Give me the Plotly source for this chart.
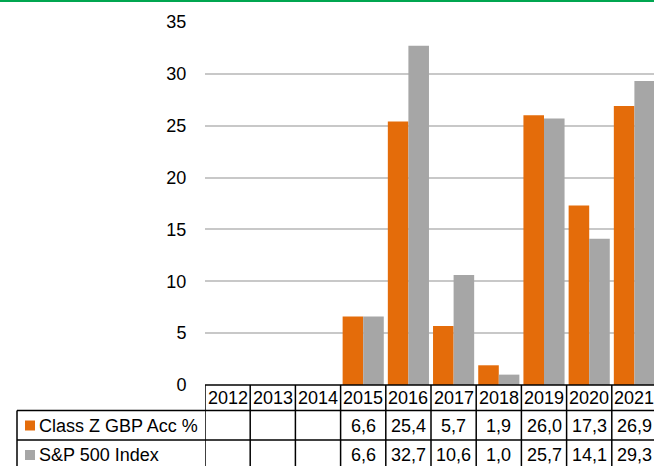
import plotly.graph_objects as go

years = ['2012', '2013', '2014', '2015', '2016', '2017', '2018', '2019', '2020', '2021']
class_z = [None, None, None, 6.6, 25.4, 5.7, 1.9, 26.0, 17.3, 26.9]
sp500 = [None, None, None, 6.6, 32.7, 10.6, 1.0, 25.7, 14.1, 29.3]
series_names = ['Class Z GBP Acc %', 'S&P 500 Index']
series_colors = ['#e46c0a', '#a6a6a6']
y_ticks = [0, 5, 10, 15, 20, 25, 30, 35]

W, H = 654, 466
ML, MR, MT, MB = 205, 0, 22, 81
PW = W - ML - MR
PH = H - MT - MB
FONT = 'Liberation Sans, Arial, sans-serif'
FS = 18


def py(p):
    return (H - MB - p) / PH


def px(p):
    return (p - ML) / PW


fig = go.Figure()
for name, vals, col in zip(series_names, [class_z, sp500], series_colors):
    fig.add_trace(go.Bar(x=years, y=vals, name=name, marker=dict(color=col, line=dict(width=0))))

col_w = 45.2
xmax = -0.5 + PW / col_w

shapes = []
line = dict(color='black', width=1.5)
row_tops = [385, 410.5, 440, 469.5]
# vertical column lines
for k in range(len(years) + 1):
    shapes.append(dict(type='line', xref='x', yref='paper', x0=k - 0.5, x1=k - 0.5,
                       y0=py(385), y1=py(469.5), line=line))
# header top (axis line)
shapes.append(dict(type='line', xref='paper', yref='paper', x0=0, x1=1, y0=py(385), y1=py(385), line=line))
# row lines
for r in row_tops[1:]:
    shapes.append(dict(type='line', xref='paper', yref='paper', x0=px(17), x1=1, y0=py(r), y1=py(r), line=line))
# legend column left edge
shapes.append(dict(type='line', xref='paper', yref='paper', x0=px(17), x1=px(17),
                   y0=py(410.5), y1=py(469.5), line=line))
# legend markers
for i, col in enumerate(series_colors):
    yc = 425.5 + i * 29.5
    shapes.append(dict(type='rect', xref='paper', yref='paper', x0=px(25), x1=px(35),
                       y0=py(yc - 5), y1=py(yc + 5), fillcolor=col, line=dict(width=0)))
# green top rule
shapes.append(dict(type='line', xref='paper', yref='paper', x0=px(0), x1=1, y0=py(1), y1=py(1),
                   line=dict(color='#00a650', width=2)))

annotations = []
for i, yr in enumerate(years):
    annotations.append(dict(x=i, y=py(397.5), xref='x', yref='paper', text=yr, showarrow=False,
                            xanchor='center', yanchor='middle', font=dict(size=FS, color='black', family=FONT)))
for r, (name, vals) in enumerate(zip(series_names, [class_z, sp500])):
    yc = 425.5 + r * 29.5
    annotations.append(dict(x=px(37), y=py(yc), xref='paper', yref='paper', text=name, showarrow=False,
                            xanchor='left', yanchor='middle', font=dict(size=FS, color='black', family=FONT)))
    for i, v in enumerate(vals):
        if v is None:
            continue
        annotations.append(dict(x=i, y=py(yc), xref='x', yref='paper', text=f'{v:.1f}'.replace('.', ','),
                                showarrow=False, xanchor='center', yanchor='middle',
                                font=dict(size=FS, color='black', family=FONT)))

fig.update_layout(
    width=W, height=H,
    margin=dict(l=ML, r=MR, t=MT, b=MB, pad=0),
    paper_bgcolor='white', plot_bgcolor='white',
    barmode='group', bargap=0.09, bargroupgap=0,
    showlegend=False,
    font=dict(family=FONT, size=FS, color='black'),
    xaxis=dict(type='category', range=[-0.5, xmax], showticklabels=False, showgrid=False,
               zeroline=False, showline=False, ticks=''),
    yaxis=dict(range=[0, 35], tickvals=y_ticks, showgrid=True, gridcolor='#c8c8c8', gridwidth=1.5,
               zeroline=False, showline=False, ticks='outside', ticklen=14,
               tickcolor='rgba(0,0,0,0)', tickfont=dict(size=FS, color='black', family=FONT)),
    shapes=shapes,
    annotations=annotations,
)

fig.write_html('out.html', config={'displayModeBar': False},
               post_script="document.body.style.margin='0';document.body.style.padding='0';"
                           "document.body.style.overflow='hidden';")
